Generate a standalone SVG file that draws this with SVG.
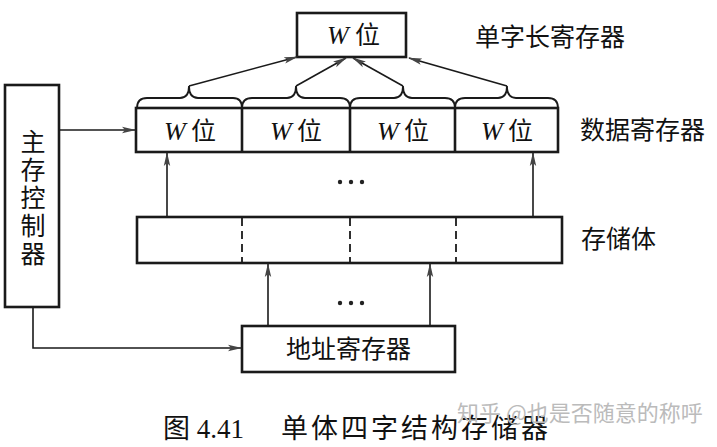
<svg xmlns="http://www.w3.org/2000/svg" width="717" height="447" viewBox="0 0 717 447">
<defs>
<marker id="ah" viewBox="0 0 14 8" refX="13" refY="4" markerWidth="14" markerHeight="8" markerUnits="userSpaceOnUse" orient="auto">
<path d="M0,0.8 L14,4 L0,7.2 L3,4 Z" fill="#444"/>
</marker>
<style>
.box{fill:#fff;stroke:#1a1a1a;stroke-width:2.6}
.ln{fill:none;stroke:#1a1a1a;stroke-width:1.6}
.ar{fill:none;stroke:#1a1a1a;stroke-width:1.6;marker-end:url(#ah)}
.br{fill:none;stroke:#1a1a1a;stroke-width:1.8}
.cj{font-family:"Noto Sans CJK SC","Noto Sans",sans-serif;font-size:25px;fill:#111}
.w{font-family:"Liberation Serif",serif;font-style:italic;font-size:26px;fill:#111}
.cap{font-family:"Liberation Serif","Noto Sans CJK SC",serif;font-size:27px;fill:#111}
.wm{font-family:"Noto Sans CJK SC",sans-serif;font-size:22px;fill:#bbb}
.dot{fill:#222}
</style>
</defs>

<g id="word-register">
<rect class="box" x="297" y="13" width="109" height="44"/>
<text x="327" y="44" class="w">W</text>
<text x="355" y="44" class="cj">位</text>
</g>
<text x="475" y="46" class="cj">单字长寄存器</text>

<g id="data-register">
<rect class="box" x="136" y="108" width="422" height="44"/>
<line class="box" x1="242" y1="108" x2="242" y2="152"/>
<line class="box" x1="350" y1="108" x2="350" y2="152"/>
<line class="box" x1="455" y1="108" x2="455" y2="152"/>
<text x="164" y="140" class="w">W</text><text x="191" y="140" class="cj">位</text>
<text x="270" y="140" class="w">W</text><text x="297" y="140" class="cj">位</text>
<text x="377" y="140" class="w">W</text><text x="404" y="140" class="cj">位</text>
<text x="481" y="140" class="w">W</text><text x="508" y="140" class="cj">位</text>
</g>
<text x="580" y="139" class="cj">数据寄存器</text>

<g id="braces">
<path class="br" d="M137,108 Q137,98 147,98 L180,98 Q189,98 189,86 Q189,98 198,98 L233,98 Q242,98 242,108"/>
<path class="br" d="M242,108 Q242,98 252,98 L287,98 Q296,98 296,86 Q296,98 305,98 L340,98 Q350,98 350,108"/>
<path class="br" d="M350,108 Q350,98 360,98 L394,98 Q403,98 403,86 Q403,98 412,98 L445,98 Q455,98 455,108"/>
<path class="br" d="M455,108 Q455,98 465,98 L498,98 Q507,98 507,86 Q507,98 516,98 L548,98 Q558,98 558,108"/>
</g>

<g id="storage">
<rect class="box" x="137" y="217" width="425" height="46"/>
<line x1="242" y1="218" x2="242" y2="262" stroke="#1a1a1a" stroke-width="1.8" stroke-dasharray="8,5"/>
<line x1="350" y1="218" x2="350" y2="262" stroke="#1a1a1a" stroke-width="1.8" stroke-dasharray="8,5"/>
<line x1="456" y1="218" x2="456" y2="262" stroke="#1a1a1a" stroke-width="1.8" stroke-dasharray="8,5"/>
</g>
<text x="581" y="248" class="cj">存储体</text>

<g id="address-register">
<rect class="box" x="242" y="326" width="213" height="46"/>
<text x="348.5" y="358" class="cj" text-anchor="middle">地址寄存器</text>
</g>

<g id="controller">
<rect class="box" x="5" y="85" width="54" height="222"/>
<text x="33" y="129" class="cj" writing-mode="vertical-rl" letter-spacing="3">主存控制器</text>
</g>

<g id="dots">
<circle class="dot" cx="340" cy="182" r="2.2"/><circle class="dot" cx="351" cy="182" r="2.2"/><circle class="dot" cx="362" cy="182" r="2.2"/>
<circle class="dot" cx="340" cy="303" r="2.2"/><circle class="dot" cx="351" cy="303" r="2.2"/><circle class="dot" cx="362" cy="303" r="2.2"/>
</g>

<g id="connectors">
<line class="ar" x1="189" y1="86" x2="297" y2="57"/>
<line class="ar" x1="296" y1="86" x2="346" y2="58"/>
<line class="ar" x1="403" y1="86" x2="353" y2="58"/>
<line class="ar" x1="507" y1="86" x2="409" y2="58"/>
<line class="ar" x1="59" y1="130" x2="135" y2="130"/>
<path class="ar" d="M33,307 L33,348 L241,348"/>
<line class="ar" x1="167" y1="216" x2="167" y2="153"/>
<line class="ar" x1="533" y1="216" x2="533" y2="153"/>
<line class="ar" x1="268" y1="325" x2="268" y2="264"/>
<line class="ar" x1="430" y1="325" x2="430" y2="264"/>
</g>

<text x="163" y="438" class="cap" xml:space="preserve">图 4.41<tspan x="281" letter-spacing="3">单体四字结构存储器</tspan></text>
<text x="457" y="421" class="wm">知乎 @也是否随意的称呼</text>
</svg>
